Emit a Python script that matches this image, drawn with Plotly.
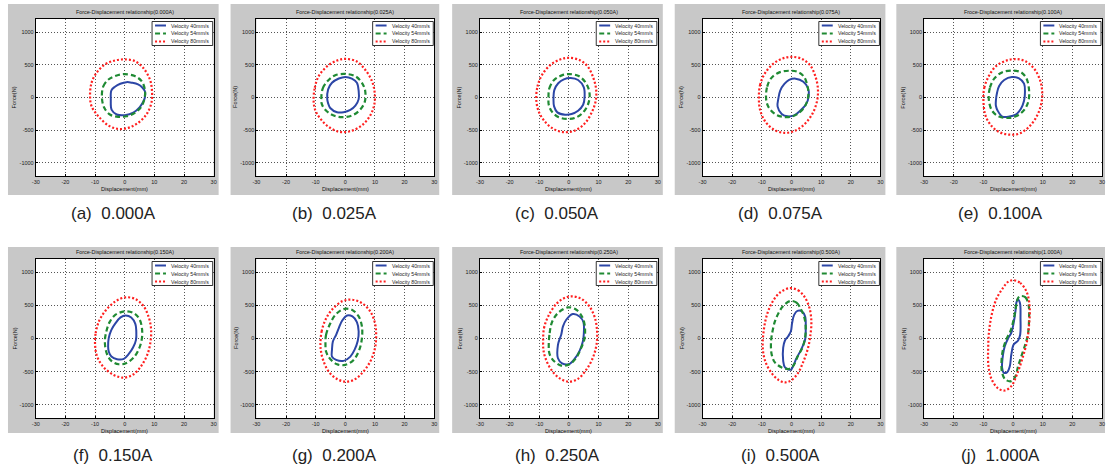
import plotly.graph_objects as go

# ---------------- data ----------------
panel_letters = ["a", "b", "c", "d", "e", "f", "g", "h", "i", "j"]
currents = ["0.000A", "0.025A", "0.050A", "0.075A", "0.100A",
            "0.150A", "0.200A", "0.250A", "0.500A", "1.000A"]
title_prefix = ["Force", "Force", "Force", "Force", "Froce",
                "Force", "Force", "Force", "Force", "Force"]
series_names = ["Velocity 40mm/s", "Velocity 54mm/s", "Velocity 80mm/s"]

x_tickvals = [-30, -20, -10, 0, 10, 20, 30]
x_ticktext = ["-30", "-20", "-10", "0", "10", "20", "30"]
y_tickvals = [-1000, -500, 0, 500, 1000]
y_ticktext = ["-1000", "-500", "0", "500", "1000"]

# (a) 0.000A
a40_x = [-4.7, -4.5, -3.3, -1.5, 0.6, 2.5, 4.5, 6.0, 6.8, 6.8, 6.2, 5.0, 2.9, 0.1, -2.7, -4.4]
a40_f = [-30, 110, 165, 210, 235, 225, 200, 150, 95, 0, -70, -150, -230, -270, -260, -190]
a54_x = [-7.7, -7.2, -5.5, -2.7, 0.0, 3.4, 5.7, 6.8, 6.8, 5.7, 3.4, 0.6, -2.2, -5.0, -6.9]
a54_f = [0, 173, 275, 337, 357, 327, 250, 122, 20, -133, -235, -286, -296, -260, -158]
a80_x = [-11.7, -11.2, -9.5, -6.7, -3.3, 0.0, 3.4, 6.2, 8.5, 9.2, 9.0, 7.3, 4.5, 1.2, -2.2, -5.5, -8.9, -11.2]
a80_f = [20, 224, 378, 505, 566, 582, 556, 454, 276, 97, -82, -260, -388, -464, -480, -429, -286, -133]

# (b) 0.025A
b40_x = [-6.1, -5.8, -4.5, -2.2, 0.0, 2.2, 3.9, 4.5, 4.5, 3.4, 1.7, -0.6, -2.8, -5.1, -5.8]
b40_f = [-25, 125, 225, 290, 315, 290, 225, 100, -25, -125, -190, -225, -225, -160, -90]
b54_x = [-8.1, -7.6, -5.8, -3.4, 0.0, 3.4, 5.6, 6.7, 6.5, 4.7, 2.2, -1.1, -4.5, -7.0, -8.0]
b54_f = [0, 140, 260, 340, 360, 325, 225, 100, -75, -200, -275, -300, -265, -175, -90]
b80_x = [-10.7, -10.3, -9.0, -6.2, -2.8, 0.2, 3.9, 6.7, 9.0, 9.9, 9.8, 8.4, 5.6, 1.7, -2.0, -5.6, -8.4, -10.1]
b80_f = [-50, 150, 325, 475, 565, 590, 550, 425, 250, 75, -100, -275, -425, -515, -525, -450, -325, -200]

# (c) 0.050A
c40_x = [-5.2, -4.9, -3.6, -1.7, 0.6, 3.1, 5.0, 5.3, 4.8, 3.1, 0.9, -1.3, -3.9, -5.0]
c40_f = [-35, 116, 217, 278, 298, 268, 157, 15, -111, -202, -252, -263, -227, -136]
c54_x = [-6.9, -6.6, -5.0, -2.4, 0.3, 3.7, 6.1, 7.0, 6.4, 4.6, 2.0, -0.8, -3.6, -5.8, -6.8]
c54_f = [-10, 141, 268, 338, 358, 318, 192, 40, -111, -237, -313, -328, -298, -212, -111]
c80_x = [-11.0, -10.6, -9.1, -6.3, -3.0, 0.0, 3.7, 6.4, 8.3, 9.2, 9.0, 7.6, 5.3, 2.0, -1.7, -5.2, -8.2, -10.2]
c80_f = [-35, 167, 343, 495, 581, 606, 571, 470, 293, 116, -61, -237, -399, -505, -530, -480, -364, -212]

# (d) 0.075A
d40_x = [-4.7, -4.4, -3.8, -2.4, -0.8, 1.4, 4.0, 5.6, 5.8, 4.8, 2.9, 0.9, -1.3, -3.3]
d40_f = [-136, -10, 106, 207, 268, 288, 242, 141, 15, -111, -202, -273, -288, -252]
d54_x = [-8.6, -8.2, -6.9, -4.1, -0.8, 2.0, 4.2, 5.3, 5.7, 4.8, 2.9, 0.3, -2.4, -5.2, -7.4, -8.3]
d54_f = [15, 167, 293, 384, 409, 394, 318, 192, 40, -111, -222, -288, -298, -263, -172, -86]
d80_x = [-11.0, -10.6, -9.1, -6.3, -3.0, 0.3, 3.7, 6.4, 8.1, 8.9, 8.7, 7.3, 4.8, 1.4, -2.4, -6.0, -8.9, -10.6]
d80_f = [-10, 192, 359, 510, 596, 621, 586, 485, 318, 141, -35, -227, -389, -505, -540, -490, -364, -187]

# (e) 0.100A
e40_x = [-5.8, -5.4, -4.7, -3.0, -0.4, 2.0, 3.7, 4.0, 3.7, 2.6, 0.9, -1.3, -3.6, -5.2, -5.8]
e40_f = [-50, 75, 176, 267, 312, 292, 211, 75, -50, -176, -262, -292, -292, -201, -126]
e54_x = [-8.2, -7.8, -6.3, -3.6, -0.2, 2.6, 4.4, 5.3, 5.3, 4.2, 2.0, -1.3, -4.7, -7.1]
e54_f = [-25, 151, 292, 387, 412, 387, 302, 151, -25, -161, -262, -312, -292, -201]
e80_x = [-10.0, -9.7, -8.2, -5.8, -2.4, 0.9, 4.2, 7.3, 9.2, 9.8, 9.6, 8.1, 5.3, 2.0, -1.3, -4.7, -7.4, -9.3]
e80_f = [-50, 151, 327, 478, 563, 588, 553, 428, 251, 101, -75, -277, -453, -553, -568, -528, -428, -277]

# (f) 0.150A
f40_x = [-5.6, -5.4, -4.5, -3.1, -1.4, 0.2, 2.2, 3.6, 3.9, 3.8, 2.8, 1.3, -0.3, -2.6, -4.5, -5.4]
f40_f = [-121, 5, 131, 232, 318, 348, 318, 217, 106, -20, -136, -237, -308, -313, -273, -197]
f54_x = [-6.7, -6.2, -5.1, -3.1, 0.0, 3.0, 4.9, 5.8, 5.8, 4.9, 3.0, 0.4, -2.0, -4.5, -6.1]
f54_f = [-45, 106, 247, 359, 409, 384, 298, 157, 5, -146, -288, -374, -389, -338, -222]
f80_x = [-10.0, -9.8, -8.7, -6.5, -3.1, 0.2, 3.6, 6.4, 8.2, 8.9, 8.7, 7.8, 5.8, 3.0, -0.3, -3.7, -7.0, -9.3]
f80_f = [-96, 81, 258, 419, 561, 621, 596, 485, 308, 131, -45, -222, -399, -540, -591, -550, -439, -273]

# (g) 0.200A
g40_x = [-4.5, -4.2, -3.1, -2.2, -1.1, 0.6, 2.4, 3.9, 4.5, 4.2, 3.1, 1.7, -0.6, -3.1, -4.5]
g40_f = [-172, -45, 56, 157, 268, 348, 333, 247, 106, -35, -172, -273, -338, -323, -273]
g54_x = [-6.7, -6.5, -5.3, -3.3, -0.6, 2.2, 4.5, 5.6, 5.6, 4.7, 2.8, 0.0, -2.8, -5.3, -6.5]
g54_f = [-96, 56, 207, 359, 444, 434, 333, 182, 5, -172, -323, -399, -389, -298, -197]
g80_x = [-8.4, -8.0, -6.7, -4.5, -1.1, 2.2, 5.6, 8.4, 10.0, 10.4, 10.0, 8.4, 5.6, 2.8, 0.0, -2.8, -5.6, -7.5, -8.2]
g80_f = [-96, 106, 283, 434, 561, 586, 535, 409, 232, 56, -146, -348, -525, -626, -651, -611, -500, -323, -197]

# (h) 0.250A
h40_x = [-3.7, -3.7, -3.1, -2.6, -2.0, -0.9, 1.3, 3.6, 4.9, 5.0, 4.7, 3.6, 1.9, -0.1, -2.3]
h40_f = [-298, -96, -5, 56, 182, 283, 369, 333, 247, 56, -45, -187, -308, -389, -374]
h54_x = [-6.8, -6.5, -5.7, -3.7, -0.3, 2.5, 4.4, 5.3, 5.3, 4.1, 2.5, 0.2, -2.6, -5.4, -6.6]
h54_f = [-96, 81, 247, 384, 470, 434, 333, 207, 5, -146, -288, -389, -409, -323, -222]
h80_x = [-8.7, -8.4, -7.0, -4.2, -1.5, 1.0, 4.1, 6.9, 8.8, 9.5, 9.3, 8.0, 5.8, 3.0, -0.1, -3.1, -5.9, -7.9, -8.6]
h80_f = [-45, 157, 333, 525, 611, 636, 601, 485, 308, 106, -96, -298, -475, -611, -651, -601, -475, -298, -172]

# (i) 0.500A
i40_x = [-0.2, -2.2, -2.8, -2.8, -2.2, -1.1, -0.2, 0.2, 0.9, 2.0, 3.6, 4.6, 4.8, 4.6, 3.3, 1.7, 0.6]
i40_f = [-470, -436, -337, -139, -30, 35, 109, 233, 356, 416, 406, 332, 158, -15, -163, -297, -411]
i54_x = [-0.4, 1.7, 3.3, 4.4, 4.8, 3.9, 2.2, 0.6, -0.9, -3.3, -5.6, -6.7, -6.9, -6.4, -5.6, -4.4, -2.8]
i54_f = [566, 540, 431, 307, 109, -114, -262, -411, -460, -436, -361, -238, -40, 109, 257, 381, 490]
i80_x = [-0.6, 2.2, 4.4, 6.1, 6.7, 6.4, 5.6, 3.9, 2.0, -0.2, -2.2, -4.4, -6.9, -8.9, -9.7, -9.4, -8.3, -6.4, -3.9]
i80_f = [760, 728, 629, 455, 257, 59, -139, -361, -535, -634, -663, -624, -510, -337, -139, 109, 356, 554, 693]

# (j) 1.000A
j40_x = [1.6, 2.3, 2.5, 2.4, 1.7, 0.2, -0.6, -1.1, -2.0, -3.1, -3.7, -3.4, -2.8, -1.7, -0.6, 0.2, 0.8, 1.1]
j40_f = [589, 540, 300, 60, -30, -91, -242, -418, -508, -518, -443, -242, -116, 0, 86, 237, 413, 538]
j54_x = [2.4, 4.1, 5.2, 5.4, 5.0, 4.1, 2.8, 1.7, 0.8, -0.6, -2.6, -3.7, -3.9, -3.4, -2.3, -0.9, 0.2, 1.0, 1.6]
j54_f = [639, 624, 513, 312, 60, -91, -267, -418, -568, -644, -619, -518, -342, -166, -15, 111, 287, 488, 604]
j80_x = [0.0, 2.4, 4.7, 5.6, 5.4, 4.7, 3.2, 1.3, -0.6, -2.8, -5.0, -7.2, -8.3, -8.4, -8.1, -7.2, -5.7, -3.4, -1.7]
j80_f = [880, 840, 689, 463, 211, -40, -292, -543, -719, -785, -755, -619, -418, -141, 111, 362, 589, 765, 855]

loops = {
    "a": [(a40_x, a40_f), (a54_x, a54_f), (a80_x, a80_f)],
    "b": [(b40_x, b40_f), (b54_x, b54_f), (b80_x, b80_f)],
    "c": [(c40_x, c40_f), (c54_x, c54_f), (c80_x, c80_f)],
    "d": [(d40_x, d40_f), (d54_x, d54_f), (d80_x, d80_f)],
    "e": [(e40_x, e40_f), (e54_x, e54_f), (e80_x, e80_f)],
    "f": [(f40_x, f40_f), (f54_x, f54_f), (f80_x, f80_f)],
    "g": [(g40_x, g40_f), (g54_x, g54_f), (g80_x, g80_f)],
    "h": [(h40_x, h40_f), (h54_x, h54_f), (h80_x, h80_f)],
    "i": [(i40_x, i40_f), (i54_x, i54_f), (i80_x, i80_f)],
    "j": [(j40_x, j40_f), (j54_x, j54_f), (j80_x, j80_f)],
}

# ---------------- styling / layout geometry (pixels) ----------------
W, H = 1108, 470
FONT = "Liberation Sans, Arial, sans-serif"
line_styles = [
    dict(color="#2c46a6", width=2.0, dash="solid"),
    dict(color="#1f8a33", width=2.2, dash="5px,3px"),
    dict(color="#ff2020", width=2.2, dash="2px,2px"),
]
plot_left = [32, 254, 479, 703, 926]
plot_w = 179
grey_left = [4, 228, 451, 675, 898]
grey_right = [216, 438, 663, 887, 1108]
row_plot_top = [19, 259]
row_plot_bot = [176, 418]
row_grey_top = [4, 247]
row_grey_bot = [195, 433]
row_title_y = [12.5, 252]
row_caption_y = [213, 455]


def px(x):
    return x / W


def py(y):
    return 1 - y / H


fig = go.Figure()
shapes = []
annotations = []
layout_axes = {}

for k, letter in enumerate(panel_letters):
    row, col = divmod(k, 5)
    n = "" if k == 0 else str(k + 1)
    L = plot_left[col]
    R = L + plot_w
    T = row_plot_top[row]
    B = row_plot_bot[row]
    gL, gR = grey_left[col], grey_right[col]
    gT, gB = row_grey_top[row], row_grey_bot[row]

    # panel backgrounds
    shapes.append(dict(type="rect", xref="paper", yref="paper", layer="below",
                       x0=px(gL), x1=px(gR), y0=py(gB), y1=py(gT),
                       fillcolor="#c8c8c8", line=dict(width=0)))
    shapes.append(dict(type="rect", xref="paper", yref="paper", layer="below",
                       x0=px(L), x1=px(R), y0=py(B), y1=py(T),
                       fillcolor="white", line=dict(width=0)))

    axcommon = dict(showline=True, mirror=True, linecolor="black", linewidth=1,
                    showgrid=True, gridcolor="#555", griddash="1px,2px", gridwidth=1,
                    zeroline=False, ticks="inside", ticklen=2, tickcolor="black",
                    tickfont=dict(size=5.5, color="#222", family=FONT),
                    fixedrange=True)
    layout_axes["xaxis" + n] = dict(axcommon, domain=[px(L), px(R)], range=[-30, 30],
                                    tickvals=x_tickvals, ticktext=x_ticktext,
                                    anchor="y" + n)
    layout_axes["yaxis" + n] = dict(axcommon, domain=[py(B), py(T)], range=[-1200, 1200],
                                    tickvals=y_tickvals, ticktext=y_ticktext,
                                    anchor="x" + n)

    for s, (xs, fs) in enumerate(loops[letter]):
        fig.add_trace(go.Scatter(
            x=list(xs) + [xs[0]], y=list(fs) + [fs[0]],
            mode="lines", name=series_names[s], showlegend=False,
            line=dict(shape="spline", smoothing=1.0, **line_styles[s]),
            xaxis="x" + n, yaxis="y" + n, hoverinfo="skip"))

    # titles and labels
    annotations.append(dict(text=f"{title_prefix[k]}-Displacement relationship({currents[k]})",
                            x=px((L + R) / 2), y=py(row_title_y[row]), xref="paper", yref="paper",
                            showarrow=False, xanchor="center", yanchor="middle",
                            font=dict(size=5.4, color="#111", family=FONT)))
    annotations.append(dict(text="Displacement(mm)",
                            x=px((L + R) / 2), y=py(B + 13), xref="paper", yref="paper",
                            showarrow=False, xanchor="center", yanchor="middle",
                            font=dict(size=5.6, color="#111", family=FONT)))
    annotations.append(dict(text="Force(N)", textangle=-90,
                            x=px(L - 21), y=py((T + B) / 2), xref="paper", yref="paper",
                            showarrow=False, xanchor="center", yanchor="middle",
                            font=dict(size=5.6, color="#111", family=FONT)))
    annotations.append(dict(text=f"({letter})\u00a0\u00a0{currents[k]}",
                            x=px((gL + gR) / 2), y=py(row_caption_y[row]), xref="paper", yref="paper",
                            showarrow=False, xanchor="center", yanchor="middle",
                            font=dict(size=17, color="#222", family=FONT)))

    # legend box
    shapes.append(dict(type="rect", xref="paper", yref="paper", layer="above",
                       x0=px(R - 62), x1=px(R - 1), y0=py(T + 26.5), y1=py(T + 2.5),
                       fillcolor="white", line=dict(color="black", width=0.8)))
    for s in range(3):
        yy = T + 6.5 + 8 * s
        st = line_styles[s]
        shapes.append(dict(type="line", xref="paper", yref="paper", layer="above",
                           x0=px(R - 59), x1=px(R - 48), y0=py(yy), y1=py(yy),
                           line=dict(color=st["color"], width=st["width"], dash=st["dash"])))
        annotations.append(dict(text=series_names[s], x=px(R - 45), y=py(yy),
                                xref="paper", yref="paper", showarrow=False,
                                xanchor="left", yanchor="middle",
                                font=dict(size=5.2, color="#222", family=FONT)))

fig.update_layout(
    width=W, height=H, margin=dict(l=0, r=0, t=0, b=0),
    paper_bgcolor="white", plot_bgcolor="white",
    showlegend=False, shapes=shapes, annotations=annotations,
    **layout_axes,
)

fig.write_html("out.html",
               config={"displayModeBar": False, "staticPlot": True},
               post_script="document.body.style.margin='0px';document.body.style.overflow='hidden';")
